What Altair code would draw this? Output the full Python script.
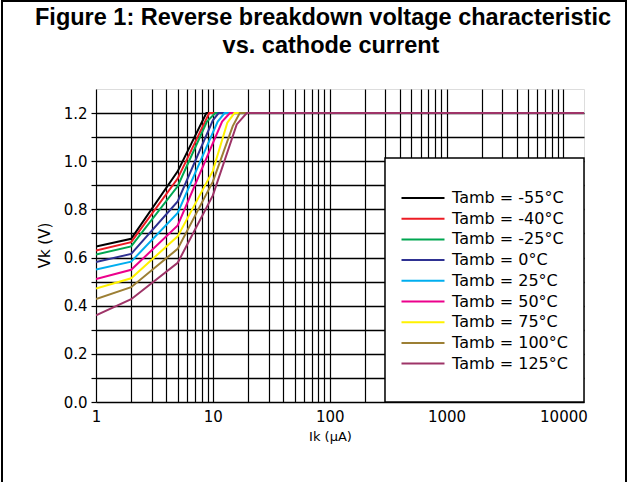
import altair as alt
import pandas as pd

series = ["Tamb = -55°C", "Tamb = -40°C", "Tamb = -25°C", "Tamb = 0°C",
          "Tamb = 25°C", "Tamb = 50°C", "Tamb = 75°C", "Tamb = 100°C", "Tamb = 125°C"]
colors = ["#000000", "#ed1c24", "#00a651", "#2e3192", "#00aeef",
          "#ec008c", "#fff200", "#9c7f34", "#9e3468"]

title_line1 = "Figure 1: Reverse breakdown voltage characteristic"
title_line2 = "vs. cathode current"

# (Ik in µA, Vk in V) vertices for each temperature curve
ik_m55 = [1, 2, 5, 8.8, 15000]
vk_m55 = [0.646, 0.678, 0.958, 1.2, 1.2]
ik_m40 = [1, 2, 5, 9.3, 15000]
vk_m40 = [0.629, 0.664, 0.928, 1.2, 1.2]
ik_m25 = [1, 2, 5, 8.9, 10.5, 15000]
vk_m25 = [0.612, 0.646, 0.896, 1.165, 1.2, 1.2]
ik_0 = [1, 2, 5, 10, 11.2, 15000]
vk_0 = [0.581, 0.615, 0.833, 1.17, 1.2, 1.2]
ik_25 = [1, 2, 5, 11, 12.6, 15000]
vk_25 = [0.550, 0.583, 0.785, 1.165, 1.2, 1.2]
ik_50 = [1, 2, 5, 12, 14, 15000]
vk_50 = [0.511, 0.549, 0.733, 1.165, 1.2, 1.2]
ik_75 = [1, 2, 5, 10, 13.3, 15.3, 15000]
vk_75 = [0.471, 0.514, 0.688, 0.96, 1.16, 1.2, 1.2]
ik_100 = [1, 2, 5, 10, 14.8, 17, 15000]
vk_100 = [0.428, 0.477, 0.636, 0.915, 1.146, 1.2, 1.2]
ik_125 = [1, 2, 5, 10, 16, 19.5, 15000]
vk_125 = [0.360, 0.427, 0.578, 0.858, 1.153, 1.2, 1.2]

curves = [(ik_m55, vk_m55), (ik_m40, vk_m40), (ik_m25, vk_m25), (ik_0, vk_0),
          (ik_25, vk_25), (ik_50, vk_50), (ik_75, vk_75), (ik_100, vk_100),
          (ik_125, vk_125)]

rows = []
for name, (xs, ys) in zip(series, curves):
    for x, y in zip(xs, ys):
        rows.append({"series": name, "ik": x, "vk": y})
df = pd.DataFrame(rows)

x_grid = [m * 10 ** e for e in range(0, 5) for m in range(1, 10) if m * 10 ** e <= 15000]
y_grid = [round(i * 0.1, 1) for i in range(0, 13)]

font = "DejaVu Sans"

lines = alt.Chart(df).mark_line(strokeWidth=2, clip=True).encode(
    x=alt.X("ik:Q",
            scale=alt.Scale(type="log", domain=[1, 15000], nice=False),
            axis=alt.Axis(values=x_grid, format="d",
                          labelExpr="(datum.value == 1 || datum.value == 10 || datum.value == 100 || datum.value == 1000 || datum.value == 10000) ? datum.label : ''",
                          labelOverlap=False, labelFlush=False, ticks=False,
                          labelPadding=7, labelFont=font, labelFontSize=15,
                          labelColor="black", grid=True, gridColor="black",
                          gridWidth=1.2, gridOpacity=1, domain=False,
                          title="Ik (µA)", titleFont=font, titleFontSize=13,
                          titleFontWeight="normal", titleColor="black",
                          titleX=234, titleY=34, titleBaseline="middle")),
    y=alt.Y("vk:Q",
            scale=alt.Scale(domain=[0, 1.3], nice=False, zero=False),
            axis=alt.Axis(values=y_grid,
                          labelExpr="round(datum.value * 10) % 2 == 0 ? format(datum.value, '.1f') : ''",
                          labelOverlap=False, labelFlush=False,
                          tickSize=5, tickColor="black", tickWidth=1.2,
                          labelPadding=4, labelFont=font, labelFontSize=15,
                          labelColor="black", grid=True, gridColor="black",
                          gridWidth=1.5, gridOpacity=1, domain=False,
                          title="Vk (V)", titleFont=font, titleFontSize=15,
                          titleFontWeight="normal", titleColor="black",
                          titleX=-52, titleY=156, titleBaseline="middle")),
    color=alt.Color("series:N",
                    scale=alt.Scale(domain=series, range=colors),
                    sort=series,
                    legend=alt.Legend(orient="none", legendX=316, legendY=98,
                                      title=None,
                                      symbolType="M-2.2,0H2.2",
                                      symbolSize=382, symbolStrokeWidth=2,
                                      labelFont=font, labelFontSize=16,
                                      labelColor="black", labelOffset=18,
                                      rowPadding=1.7, padding=0,
                                      labelLimit=300)),
    order=alt.Order("ik:Q"),
)

one = alt.Data(values=[{"k": 0}])
legend_box = alt.Chart(one).mark_rect(fill="white", stroke="black", strokeWidth=1.5).encode(
    x=alt.value(289), x2=alt.value(488), y=alt.value(69), y2=alt.value(313))

frame_left = alt.Chart(one).mark_rule(color="black", strokeWidth=2).encode(
    x=alt.value(-94), y=alt.value(-88), y2=alt.value(393))
frame_top = alt.Chart(one).mark_rule(color="black", strokeWidth=2).encode(
    x=alt.value(-95), x2=alt.value(531), y=alt.value(-88))
frame_right = alt.Chart(one).mark_rule(color="black", strokeWidth=2).encode(
    x=alt.value(530), y=alt.value(-88), y2=alt.value(393))

title_1 = alt.Chart(one).mark_text(
    font="Liberation Sans", fontSize=23.5, fontWeight="bold", color="black",
    align="center", baseline="middle").encode(
    x=alt.value(227), y=alt.value(-71), text=alt.value(title_line1))
title_2 = alt.Chart(one).mark_text(
    font="Liberation Sans", fontSize=23.5, fontWeight="bold", color="black",
    align="center", baseline="middle").encode(
    x=alt.value(235), y=alt.value(-43), text=alt.value(title_line2))

chart = alt.layer(lines, legend_box, frame_left, frame_top, frame_right,
                  title_1, title_2).properties(
    width=488, height=313,
    autosize=alt.AutoSizeParams(type="none"),
    padding={"left": 96, "top": 89, "right": 44, "bottom": 80},
).configure_view(stroke="black", strokeWidth=2).configure(background="white")

chart.save("out.html", embed_options={"renderer": "svg", "actions": False})
